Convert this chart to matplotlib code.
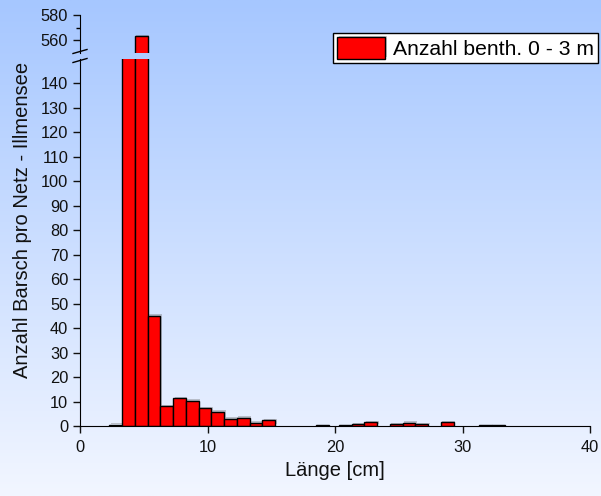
import numpy as np
import matplotlib.pyplot as plt
from matplotlib import patheffects
from matplotlib.lines import Line2D

plt.rcParams['font.family'] = ['Liberation Sans', 'DejaVu Sans']

# length class centres (cm) and catch counts
lengths = [2.8, 3.8, 4.8, 5.8, 6.8, 7.8, 8.8, 9.8, 10.8, 11.8, 12.8, 13.8, 14.8,
           19.0, 20.8, 21.8, 22.8, 24.8, 25.8, 26.8, 28.8, 31.8, 32.8]
counts = [0.4, 160, 563, 45, 8, 11.3, 10.3, 7.2, 5.9, 2.8, 3.4, 1.4, 2.3,
          0.3, 0.3, 0.7, 1.5, 0.7, 1.3, 0.7, 1.5, 0.3, 0.3]
series_label = 'Anzahl benth. 0 - 3 m'
low_ticks = list(range(0, 141, 10))
high_ticks = [560, 580]

W, H = 601, 496
fig = plt.figure(figsize=(W / 100, H / 100), dpi=100)

# background gradient (light blue top -> almost white bottom)
bg = fig.add_axes([0, 0, 1, 1], zorder=-10)
t = np.linspace(0, 1, 256)[:, None]
top_c = np.array([166, 199, 255]) / 255
bot_c = np.array([242, 246, 255]) / 255
grad = top_c[None, None, :] * (1 - t[..., None]) + bot_c[None, None, :] * t[..., None]
grad = np.repeat(grad, 2, axis=1)
bg.imshow(grad, aspect='auto', extent=[0, 1, 0, 1])
bg.axis('off')

ax = fig.add_axes([80 / W, 1 - 426 / H, 510 / W, 367 / H])
ax_top = fig.add_axes([80 / W, 1 - 52.5 / H, 510 / W, 37.5 / H])

shadow = [patheffects.SimplePatchShadow(offset=(1.2, 1.2), shadow_rgbFace='#666666', alpha=0.35),
          patheffects.Normal()]
for a in (ax, ax_top):
    a.patch.set_alpha(0)
    bars = a.bar(lengths, counts, width=1.0, color='#ff0000', edgecolor='black',
                 linewidth=1.0, label=series_label)
    for b in bars:
        b.set_path_effects(shadow)
    a.set_xlim(0, 40)
    a.spines['top'].set_visible(False)
    a.spines['right'].set_visible(False)
    a.tick_params(labelsize=11.8, length=5, width=1, direction='out', colors='#111111')

ax.set_ylim(0, 150)
ax.set_yticks(low_ticks)
ax.set_xticks([0, 10, 20, 30, 40])
ax.tick_params(axis='x', pad=5)

ax_top.set_ylim(550, 580)
ax_top.set_yticks(high_ticks)
ax_top.set_yticks([570], minor=True)
ax_top.tick_params(which='minor', length=3, width=1)
ax_top.spines['bottom'].set_visible(False)
ax_top.set_xticks([])

# axis break marks
for y0, y1 in [(53.5, 49.5), (62.5, 58.5)]:
    fig.add_artist(Line2D([73 / W, 87 / W], [1 - y0 / H, 1 - y1 / H],
                          color='black', linewidth=1))

fig.text(23 / W, 1 - 220 / H, 'Anzahl Barsch pro Netz - Illmensee', rotation=90,
         ha='center', va='center', fontsize=14.5, color='#111111')
fig.text(335 / W, 1 - 471 / H, 'Länge [cm]', ha='center', va='center',
         fontsize=14.5, color='#111111')

handles, labels = ax.get_legend_handles_labels()
leg = fig.legend(handles[:1], labels[:1], loc='upper right',
                 bbox_to_anchor=(598 / W, 1 - 33 / H), borderaxespad=0,
                 fontsize=15.2, fancybox=False, edgecolor='black', framealpha=1,
                 handlelength=2.3, handleheight=1.2, handletextpad=0.35,
                 borderpad=0.2)
leg.get_frame().set_linewidth(1)

fig.savefig('out.png', dpi=100)
